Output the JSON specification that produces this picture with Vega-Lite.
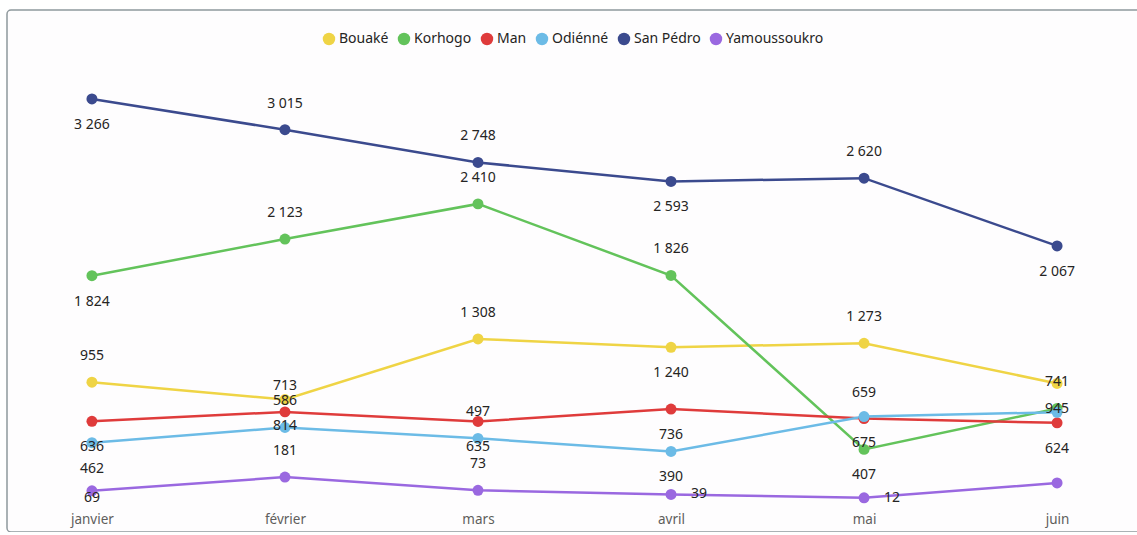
{
  "$schema": "https://vega.github.io/schema/vega-lite/v6.json",
  "width": 1135,
  "height": 522,
  "autosize": {"type": "none"},
  "padding": {"left": 7, "top": 10, "right": 0, "bottom": 0},
  "background": "#ffffff",
  "config": {
    "font": "Segoe UI, Noto Sans, sans-serif",
    "view": {"stroke": "#8f999d", "strokeWidth": 1.5, "cornerRadius": 4, "fill": "#fefdfe"},
    "locale": {"number": {"decimal": ",", "thousands": "\u00a0", "grouping": [3], "currency": ["", " €"]}}
  },
  "data": {
    "values": [
      {"city": "Bouaké", "month": "janvier", "value": 955},
      {"city": "Bouaké", "month": "février", "value": 814},
      {"city": "Bouaké", "month": "mars", "value": 1308},
      {"city": "Bouaké", "month": "avril", "value": 1240},
      {"city": "Bouaké", "month": "mai", "value": 1273},
      {"city": "Bouaké", "month": "juin", "value": 945},
      {"city": "Korhogo", "month": "janvier", "value": 1824},
      {"city": "Korhogo", "month": "février", "value": 2123},
      {"city": "Korhogo", "month": "mars", "value": 2410},
      {"city": "Korhogo", "month": "avril", "value": 1826},
      {"city": "Korhogo", "month": "mai", "value": 407},
      {"city": "Korhogo", "month": "juin", "value": 741},
      {"city": "Man", "month": "janvier", "value": 636},
      {"city": "Man", "month": "février", "value": 713},
      {"city": "Man", "month": "mars", "value": 635},
      {"city": "Man", "month": "avril", "value": 736},
      {"city": "Man", "month": "mai", "value": 659},
      {"city": "Man", "month": "juin", "value": 624},
      {"city": "Odiénné", "month": "janvier", "value": 462},
      {"city": "Odiénné", "month": "février", "value": 586},
      {"city": "Odiénné", "month": "mars", "value": 497},
      {"city": "Odiénné", "month": "avril", "value": 390},
      {"city": "Odiénné", "month": "mai", "value": 675},
      {"city": "Odiénné", "month": "juin", "value": 710},
      {"city": "San Pédro", "month": "janvier", "value": 3266},
      {"city": "San Pédro", "month": "février", "value": 3015},
      {"city": "San Pédro", "month": "mars", "value": 2748},
      {"city": "San Pédro", "month": "avril", "value": 2593},
      {"city": "San Pédro", "month": "mai", "value": 2620},
      {"city": "San Pédro", "month": "juin", "value": 2067},
      {"city": "Yamoussoukro", "month": "janvier", "value": 69},
      {"city": "Yamoussoukro", "month": "février", "value": 181},
      {"city": "Yamoussoukro", "month": "mars", "value": 73},
      {"city": "Yamoussoukro", "month": "avril", "value": 39},
      {"city": "Yamoussoukro", "month": "mai", "value": 12},
      {"city": "Yamoussoukro", "month": "juin", "value": 133}
    ]
  },
  "encoding": {
    "x": {
      "field": "month", "type": "ordinal",
      "sort": ["janvier", "février", "mars", "avril", "mai", "juin"],
      "scale": {"type": "point", "padding": 0.44},
      "axis": {"title": null, "domain": false, "ticks": false, "grid": false, "labelAngle": 0, "labelPadding": 0, "offset": -20, "labelFontSize": 13.5, "labelColor": "#605e5c", "labelFont": "Segoe UI, Noto Sans, sans-serif"}
    },
    "y": {
      "field": "value", "type": "quantitative",
      "scale": {"domain": [-267, 3992], "nice": false, "zero": false},
      "axis": null
    }
  },
  "layer": [
    {
      "mark": {"type": "line", "strokeWidth": 2.5},
      "encoding": {
        "color": {
          "field": "city", "type": "nominal",
          "scale": {
            "domain": ["Bouaké", "Korhogo", "Man", "Odiénné", "San Pédro", "Yamoussoukro"],
            "range": ["#efd445", "#63c35b", "#df3b3b", "#6cbbe6", "#3b4a8e", "#9a68e0"]
          },
          "legend": {
            "title": null, "orient": "none", "direction": "horizontal",
            "legendX": 315, "legendY": 22, "padding": 0,
            "symbolType": "circle", "symbolSize": 155, "symbolStrokeWidth": 0,
            "symbolOpacity": 1,
            "labelFontSize": 14, "labelColor": "#252423", "labelOffset": 3, "columnPadding": 8,
            "labelFont": "Segoe UI, Noto Sans, sans-serif"
          }
        }
      }
    },
    {
      "mark": {"type": "point", "filled": true, "size": 120, "opacity": 1},
      "encoding": {"color": {"field": "city", "type": "nominal", "legend": null}}
    },
    {
      "transform": [{"filter": "indexof(['San Pédro|février','San Pédro|mars','San Pédro|mai','Korhogo|février','Korhogo|mars','Korhogo|avril','Korhogo|juin','Bouaké|janvier','Bouaké|mars','Bouaké|mai','Man|février','Man|mai','Odiénné|février','Odiénné|mars','Yamoussoukro|février','Yamoussoukro|mars'], datum.city + '|' + datum.month) >= 0"}],
      "mark": {"type": "text", "dy": -26, "fontSize": 14, "color": "#252423", "baseline": "middle"},
      "encoding": {"text": {"field": "value", "type": "quantitative", "format": ",d"}}
    },
    {
      "transform": [{"filter": "indexof(['San Pédro|janvier','San Pédro|avril','San Pédro|juin','Korhogo|janvier','Korhogo|mai','Bouaké|février','Bouaké|avril','Bouaké|juin','Man|janvier','Man|mars','Man|avril','Man|juin','Odiénné|janvier','Odiénné|avril','Odiénné|mai'], datum.city + '|' + datum.month) >= 0"}],
      "mark": {"type": "text", "dy": 26, "fontSize": 14, "color": "#252423", "baseline": "middle"},
      "encoding": {"text": {"field": "value", "type": "quantitative", "format": ",d"}}
    },
    {
      "transform": [{"filter": "indexof(['Yamoussoukro|avril','Yamoussoukro|mai'], datum.city + '|' + datum.month) >= 0"}],
      "mark": {"type": "text", "dx": 20, "dy": 0, "align": "left", "fontSize": 14, "color": "#252423", "baseline": "middle"},
      "encoding": {"text": {"field": "value", "type": "quantitative", "format": ",d"}}
    },
    {
      "transform": [{"filter": "datum.city == 'Yamoussoukro' && datum.month == 'janvier'"}],
      "mark": {"type": "text", "dy": 7, "fontSize": 14, "color": "#252423", "baseline": "middle"},
      "encoding": {"text": {"field": "value", "type": "quantitative", "format": ",d"}}
    }
  ]
}
